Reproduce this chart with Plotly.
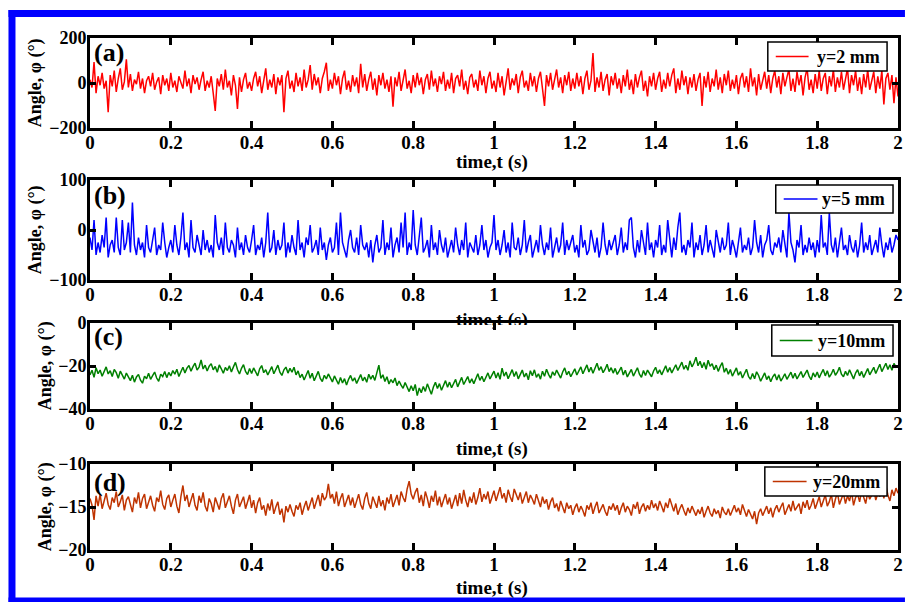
import plotly.graph_objects as go

FONT = "Liberation Serif"

# ---------------- data ----------------
DT = 0.005
N_SAMPLES = 401
time_s = [round(i * DT, 3) for i in range(N_SAMPLES)]

angle_y2mm = [
    15, -20, 93, -45, 30, -10, 45, -25, 10, -130, 35, -15, 55, -40, 20, 65, -30, 5, 105, -20,
    40, -35, 15, -5, 50, -25, 20, -45, 10, 30, -15, 45, -30, 5, 25, -50, 35, -10, 20, -35,
    45, -20, 10, -40, 30, 0, -25, 55, -15, 20, -45, 35, -5, 25, -30, 15, 50, -35, 10, -20,
    30, -45, -124, 20, -15, 40, -30, 60, -20, 10, -55, 35, -10, -115, 25, -40, 15, 45, -25, 5,
    -35, 20, 50, -15, 30, -45, 10, 65, -30, 15, -20, 40, -50, 25, -10, 35, -130, 20, 55, -25,
    10, -40, 45, -15, 25, -35, 60, -20, 15, 80, -30, 40, -10, 25, -45, 20, 50, 90, -35, 15,
    -25, 45, -10, 30, -50, 20, 55, -30, 10, -40, 35, -15, 25, -45, 85, -20, 40, -35, 15, 50,
    -30, 20, -55, 35, -10, 45, -25, 15, -40, 30, -105, 25, -15, 50, -35, 20, 60, -25, 10, -45,
    35, -20, 45, -10, 25, -50, 15, 40, -30, 55, -15, 20, -40, 30, -5, 50, -35, 15, -25, 45,
    -45, 20, 35, -15, 60, -30, 10, -50, 25, 40, -20, 15, -35, 55, -10, 30, -45, 20, 50, -25,
    10, -40, 45, -20, 30, -55, 15, 65, -30, 20, -10, 40, -45, 25, 55, -20, 10, -35, 45, -15,
    30, -40, 20, 50, -25, -102, 35, -15, 45, -30, 15, 60, -20, 25, -45, 35, -10, 50, -35, 20,
    -25, 45, -15, 30, -50, 20, 55, -30, 10, 133, -40, 25, -20, 50, -35, 15, 40, -55, 30, -10,
    45, -25, 20, -45, 35, -15, 60, -30, 15, -50, 40, -20, 25, 55, -35, 10, -60, 30, -15, 45,
    -30, 20, 50, -40, 15, -25, 45, -15, 35, 65, -45, 20, -30, 55, -10, 30, -50, 25, -20, 40,
    -35, 15, 45, -102, 30, -20, 50, -40, 20, -15, 60, -30, 25, -45, 40, -10, 55, -35, 15, -25,
    35, -50, 20, 45, -20, 30, -40, 65, -15, 25, -55, 40, -30, 15, 50, -25, 35, -45, 20, 55,
    -20, 30, -50, 45, -15, 25, 60, -35, 20, -40, 50, -10, 35, -55, 25, 65, -30, 15, -45, 40,
    -25, 55, -35, 20, 45, -50, 30, -15, 60, -40, 25, -20, 50, -30, 15, 65, -45, 35, -10, 55,
    -35, 25, -50, 40, -20, 60, -30, 15, 50, -45, 30, -25, 55, -95, 20, 45, -30, 35, -90, 25,
    -60,
]

angle_y5mm = [
    -15, -40, 20, -50, -25, -45, -10, -35, 25, -55, -30, -20, -45, 25, -35, -50, 20, -40, -25, 15,
    -45, 55, -30, -50, -15, -40, -25, -55, 10, -35, -45, -20, 5, -50, -30, -40, 15, -25, -55, -35,
    -20, -45, 10, -30, -50, -15, 35, -40, -25, -55, 20, -35, -45, -10, -30, -50, 0, -40, -20, -45,
    -30, -55, 30, -25, -40, -15, -50, 15, -35, -45, -20, -30, -55, 5, -40, -25, -50, -10, -35, -45,
    -20, 10, -50, -30, -40, -15, -55, -25, 35, -45, -35, 0, -50, -20, -40, -30, 15, -55, -25, -45,
    -10, -35, -50, 20, -40, -25, -55, -15, -30, 10, -45, -35, -20, -50, 5, -40, -25, -60, -30, -15,
    -45, -35, 15, -50, 35, -25, -40, -55, -20, 0, -35, -45, -15, -50, 10, -30, -40, -25, -55, -20,
    -65, -30, -10, -45, -35, 20, -50, -25, -40, 5, -55, -30, -15, -45, 15, -35, 35, -50, -25, -40,
    40, -30, -50, -15, 25, -45, -35, -20, -55, 10, -40, -25, -50, 0, -30, -45, -15, -55, -35, -20,
    -45, 5, -30, -50, -20, -40, 15, -55, -25, -35, -45, -10, -50, -30, 10, -40, -20, -55, -35, -25,
    30, -40, -20, -50, -30, 0, -45, -25, -55, 15, -35, -40, -15, -50, -30, 20, -45, -25, -10, -55,
    -35, -20, -45, 10, -30, -50, -25, -40, 5, -55, -35, -15, -45, -30, 15, -50, -20, -40, -25, -10,
    -45, -30, -55, 10, -35, -20, -50, -40, 0, -25, -45, -15, -55, -35, 15, -30, -50, -20, -40, -25,
    -10, -50, -30, 5, -45, -25, -40, 20, 25, -35, -55, -20, -45, 0, -30, -50, 15, -40, -25, -55,
    -20, -35, 10, -50, -30, -45, 20, -25, -55, -15, -40, 5, 35, -45, -30, -50, -20, -35, 15, -55,
    -25, -40, -10, -50, -30, 10, -45, -20, -35, -55, 0, -25, -45, -15, -40, -30, 15, -50, -20, -35,
    -55, -25, 5, -45, -30, -40, -15, -50, -35, 20, -25, -45, -10, -55, -30, -20, 10, -40, -50, -25,
    -35, -15, -45, 0, -30, -55, 35, -25, -40, -65, -20, -35, 10, -50, -30, -45, -15, -40, -25, -55,
    -20, -45, 30, -35, -25, -50, 35, -30, -45, -15, -55, -25, 5, -40, -30, -50, -10, -35, -45, -20,
    -55, -30, 15, -45, -25, -40, -10, -50, -35, -20, -45, 5, -30, -55, -25, -40, -15, -45, -30, -10,
    -20,
]

angle_y10mm = [
    -24.1, -22.0, -25.3, -20.8, -23.6, -21.9, -24.8, -22.5, -20.4, -23.7, -22.2, -24.9, -21.6, -23.1, -25.7, -22.4, -24.0, -26.1, -23.3, -25.2,
    -26.8, -24.3, -27.5, -25.1, -23.9, -26.6, -28.0, -24.7, -25.9, -23.4, -26.2, -24.5, -22.8, -25.6, -27.1, -23.8, -24.9, -22.6, -25.4, -23.0,
    -24.6, -22.1, -23.8, -21.5, -24.9, -22.7, -20.6, -23.2, -21.0, -19.8, -22.4, -20.3, -18.7, -21.9, -20.5, -17.2, -21.4, -19.6, -22.3, -20.1,
    -18.9, -21.8, -20.2, -22.9, -19.5, -21.3, -23.4, -20.7, -22.1, -19.9, -22.8, -20.4, -18.3, -21.6, -23.7, -21.1, -19.4, -22.5, -24.0, -21.2,
    -23.5, -20.9, -22.7, -24.6, -21.3, -19.8, -23.1, -21.7, -24.2, -22.0, -20.3, -23.6, -21.4, -19.6, -22.9, -24.4, -21.8, -20.5, -23.3, -21.1,
    -22.9, -20.6, -24.1, -22.3, -25.4, -23.8, -26.5, -24.2, -22.1, -25.7, -23.4, -26.9, -24.6, -22.5, -25.8, -27.2, -24.3, -26.0, -23.7, -25.9,
    -27.4, -24.6, -26.8, -28.5, -25.3, -27.9, -25.9, -28.8, -26.2, -24.4, -27.0, -25.5, -28.1, -26.4, -24.0, -26.9, -25.2, -27.6, -23.8, -26.1,
    -24.3, -26.7, -23.5, -19.6, -25.8, -24.1, -27.2, -25.0, -28.4, -26.3, -27.8, -25.6, -29.1, -27.0, -28.9, -30.4, -27.7, -29.8, -31.9, -29.2,
    -31.5, -28.6, -33.8, -30.2, -32.4, -29.5, -31.8, -28.3, -30.9, -33.1, -29.8, -27.6, -30.5, -28.2, -31.3, -29.0, -26.8, -29.9, -27.5, -30.1,
    -28.4, -26.2, -29.7, -27.1, -25.3, -28.6, -26.8, -24.9, -27.9, -26.0, -28.2, -25.4, -23.6, -26.7, -24.8, -27.3, -25.1, -23.2, -26.0, -24.3,
    -22.4, -25.6, -23.1, -26.2, -21.0, -24.7, -22.8, -25.9, -23.5, -21.7, -24.9, -22.6, -26.0, -23.8, -21.9, -25.1, -23.3, -26.4, -22.2, -24.5,
    -21.8, -25.3, -23.6, -26.1, -22.4, -24.8, -21.5, -23.9, -25.7, -22.7, -24.4, -21.9, -23.5, -25.6, -22.8, -20.9, -24.1, -22.5, -25.0, -23.2,
    -21.3, -24.2, -22.0, -20.4, -23.6, -21.7, -19.5, -22.8, -20.6, -23.4, -21.2, -18.7, -22.0, -20.3, -23.1, -21.5, -19.2, -22.6, -20.8, -23.3,
    -21.1, -23.9, -22.3, -20.5, -24.2, -22.0, -25.1, -23.4, -21.6, -24.7, -22.5, -20.8, -23.8, -25.3, -22.1, -24.4, -21.9, -23.6, -25.0, -22.3,
    -20.6, -23.5, -21.8, -24.1, -22.0, -19.9, -22.9, -20.7, -23.2, -21.1, -19.4, -22.1, -20.3, -18.2, -21.5, -19.7, -22.0, -17.6, -20.4, -18.6,
    -15.9, -19.9, -17.8, -20.8, -18.4, -21.5, -17.3, -20.1, -18.9, -21.7, -19.6, -22.5, -20.2, -18.4, -22.9, -21.0, -23.8, -21.6, -24.7, -22.4,
    -20.9, -24.3, -22.6, -25.6, -23.1, -21.5, -24.8, -26.2, -23.5, -25.9, -22.7, -24.4, -27.1, -24.9, -23.2, -26.3, -24.6, -27.3, -25.0, -23.7,
    -26.5, -24.1, -27.0, -25.4, -23.6, -26.2, -24.8, -22.9, -25.7, -23.4, -26.0, -24.5, -22.6, -25.3, -23.8, -21.9, -24.7, -26.4, -23.2, -25.1,
    -22.8, -25.5, -23.4, -21.6, -24.6, -22.2, -25.2, -23.7, -21.5, -24.3, -22.9, -20.6, -23.8, -25.0, -22.5, -24.4, -21.8, -23.9, -26.0, -23.3,
    -21.7, -24.6, -22.5, -25.3, -23.0, -21.2, -24.1, -22.4, -20.6, -23.5, -21.3, -19.2, -22.6, -20.8, -18.7, -21.6, -19.4, -22.0, -18.8, -20.5,
    -19.8,
]

angle_y20mm = [
    -14.0, -14.8, -16.5, -13.7, -14.9, -13.5, -15.2, -14.1, -13.4, -14.7, -15.3, -13.9, -14.5, -13.2, -15.0, -14.4, -13.6, -15.4, -14.2, -13.8,
    -14.9, -15.6, -13.9, -14.6, -13.3, -15.1, -14.0, -13.5, -15.2, -14.3, -13.7, -14.8, -15.5, -13.9, -14.4, -13.1, -14.7, -15.3, -14.0, -13.6,
    -15.0, -14.2, -13.5, -14.9, -15.7, -13.8, -12.5, -14.3, -13.6, -15.0, -14.1, -13.4, -14.8, -15.4, -13.7, -14.5, -13.3, -14.9, -15.5, -14.0,
    -14.6, -15.6, -13.9, -14.7, -15.3, -14.0, -13.4, -15.1, -14.5, -13.7, -14.9, -15.8, -14.2, -13.5, -15.0, -14.3, -13.8, -15.2, -14.4, -13.6,
    -15.1, -14.2, -15.7, -14.5, -13.9, -15.3, -14.8, -16.0, -14.6, -15.4, -14.1, -15.8, -15.0, -14.4, -15.9, -15.2, -16.8, -14.9, -15.6, -14.7,
    -15.5, -16.1, -14.8, -15.3, -14.5, -15.9, -15.0, -14.3, -15.4, -14.6, -13.9, -15.2, -14.4, -13.6, -14.9, -13.4, -14.2, -13.8, -12.3, -14.0,
    -13.5, -14.6, -13.2, -14.9, -14.0, -13.4, -15.0, -14.3, -13.6, -14.8, -13.9, -15.1, -14.2, -13.5, -14.7, -15.3, -14.0, -13.3, -14.6, -15.2,
    -13.8, -14.5, -15.1, -13.7, -14.9, -14.2, -15.4, -13.9, -14.6, -13.5, -15.0, -14.3, -13.6, -14.8, -13.2, -13.9, -14.4, -12.9, -12.0, -13.5,
    -14.1, -13.3, -12.8, -14.5, -13.6, -14.9, -13.2, -14.0, -15.1, -13.7, -14.4, -13.1, -14.8, -13.8, -15.0, -14.2, -13.5, -14.7, -13.9, -15.2,
    -14.3, -13.6, -14.9, -13.4, -14.6, -13.0, -14.2, -15.0, -13.8, -14.5, -13.3, -14.7, -13.9, -12.8, -14.4, -13.5, -14.1, -13.2, -14.6, -13.7,
    -13.1, -14.3, -13.6, -12.7, -14.0, -13.4, -14.5, -13.0, -13.8, -14.4, -12.9, -13.7, -14.2, -13.3, -14.6, -13.9, -13.2, -14.5, -13.6, -14.1,
    -14.7, -13.5, -14.2, -15.0, -13.8, -14.6, -14.1, -15.3, -14.4, -13.9, -15.1, -14.6, -15.5, -14.3, -15.0, -15.7, -14.5, -15.2, -14.8, -15.9,
    -15.1, -14.6, -15.6, -14.9, -15.4, -16.1, -14.8, -15.3, -14.5, -15.8, -15.0, -14.4, -15.7, -15.2, -14.7, -15.5, -16.0, -14.9, -15.3, -14.6,
    -15.4, -14.8, -15.9, -15.1, -14.5, -15.6, -14.9, -15.3, -16.0, -14.7, -15.2, -14.4, -15.8, -15.0, -14.6, -15.5, -14.8, -15.3, -14.2, -15.1,
    -14.6, -15.4, -14.3, -14.9, -15.6, -14.5, -15.1, -14.0, -14.8, -15.5, -14.6, -15.9, -15.2, -14.7, -15.4, -16.0, -15.1, -15.7, -14.9, -15.5,
    -16.0, -15.3, -15.8, -15.0, -16.2, -15.5, -14.9, -15.7, -16.1, -15.2, -15.8, -15.4, -16.3, -15.0, -15.6, -15.9, -15.2, -16.0, -15.5, -14.8,
    -15.6, -15.1, -15.9, -14.7, -15.4, -16.1, -15.3, -15.8, -16.4, -15.5, -17.0, -15.7, -15.2, -16.0, -15.4, -14.9, -15.8, -15.1, -16.2, -15.3,
    -14.8, -15.6, -15.0, -14.5, -15.9, -15.2, -14.7, -15.5, -14.3, -15.4, -15.0, -14.6, -15.8, -14.4, -15.1, -14.2, -15.3, -14.8, -14.0, -15.2,
    -14.5, -13.8, -15.0, -14.2, -13.6, -14.9, -14.4, -13.5, -15.1, -14.1, -13.3, -14.7, -14.0, -13.4, -14.6, -13.7, -14.3, -13.2, -14.8, -13.9,
    -13.5, -14.4, -13.1, -13.9, -14.6, -13.3, -14.1, -13.6, -12.9, -14.2, -13.4, -13.8, -12.7, -14.0, -12.5, -13.6, -14.3, -13.0, -13.7, -12.8,
    -13.4,
]

series_names = ["y=2 mm", "y=5 mm", "y=10mm", "y=20mm"]
series_values = [angle_y2mm, angle_y5mm, angle_y10mm, angle_y20mm]
series_colors = ["#ff0000", "#0000ff", "#008000", "#bf3300"]
panel_labels = ["(a)", "(b)", "(c)", "(d)"]
y_ranges = [[-200, 200], [-100, 100], [-40, 0], [-20, -10]]
y_tickvals = [[-200, 0, 200], [-100, 0, 100], [-40, -20, 0], [-20, -15, -10]]
x_tickvals = [0, 0.2, 0.4, 0.6, 0.8, 1.0, 1.2, 1.4, 1.6, 1.8, 2.0]
x_ticktext = ["0", "0.2", "0.4", "0.6", "0.8", "1", "1.2", "1.4", "1.6", "1.8", "2"]
x_title = "time,t (s)"
y_title = "Angle, φ (°)"

# ---------------- layout geometry (pixels) ----------------
W, H = 910, 602
ML, MR, MT, MB = 90, 7, 38, 52
PW, PH = W - ML - MR, H - MT - MB
panel_px = [(38, 128), (180, 280), (323, 409), (464, 550)]   # (top, bottom)
# legend boxes: (left, top, right, bottom, line_x0, line_x1, text_x)
legend_px = [
    (772, 42, 892, 71, 780, 813, 819),
    (780, 185, 898, 213, 788, 822, 825),
    (776, 325, 898, 356, 784, 817, 820),
    (769, 467, 892, 496, 777, 811, 815),
]
label_cy = [52, 195, 336, 482]
ytitle_x = [35, 35, 45, 45]
xtitle_cy = [162, 320, 449, 588]


def xp(px):
    return (px - ML) / PW


def yp(py):
    return (H - MB - py) / PH


fig = go.Figure()
bold = dict(family=FONT, color="black", weight="bold")

annotations = []
shapes = []
for i in range(4):
    sfx = "" if i == 0 else str(i + 1)
    top, bot = panel_px[i]
    fig.add_trace(go.Scatter(
        x=time_s, y=series_values[i], mode="lines", name=series_names[i],
        line=dict(color=series_colors[i], width=1.5),
        xaxis="x" + sfx, yaxis="y" + sfx, showlegend=False,
    ))
    fig.update_layout(**{
        "xaxis" + sfx: dict(
            domain=[0, 1], range=[0, 2], anchor="y" + sfx,
            tickvals=x_tickvals, ticktext=x_ticktext,
            ticks="inside", ticklen=7, tickwidth=2.5, tickcolor="black",
            showline=True, linewidth=3, linecolor="black", mirror="ticks",
            showgrid=False, zeroline=False,
            tickfont=dict(size=19, **bold), ticklabelstandoff=-5,
        ),
        "yaxis" + sfx: dict(
            domain=[yp(bot), yp(top)], range=y_ranges[i], anchor="x" + sfx,
            tickvals=y_tickvals[i],
            ticks="inside", ticklen=6, tickwidth=2.5, tickcolor="black",
            showline=True, linewidth=3, linecolor="black", mirror="ticks",
            showgrid=False, zeroline=False,
            tickfont=dict(size=18, **bold), ticklabelstandoff=-3,
        ),
    })
    # legend box drawn per panel
    lx0, ly0, lx1, ly1, sx0, sx1, tx = legend_px[i]
    cy = (ly0 + ly1) / 2
    shapes.append(dict(
        type="rect", xref="paper", yref="paper",
        x0=xp(lx0), x1=xp(lx1), y0=yp(ly1), y1=yp(ly0),
        fillcolor="white", line=dict(color="black", width=1.5), layer="above",
    ))
    shapes.append(dict(
        type="line", xref="paper", yref="paper",
        x0=xp(sx0), x1=xp(sx1), y0=yp(cy), y1=yp(cy),
        line=dict(color=series_colors[i], width=1.5), layer="above",
    ))
    annotations.append(dict(
        text=series_names[i], xref="paper", yref="paper",
        x=xp(tx), y=yp(cy), xanchor="left", yanchor="middle",
        showarrow=False, font=dict(size=18, **bold),
    ))
    annotations.append(dict(
        text=panel_labels[i], xref="paper", yref="paper",
        x=xp(92), y=yp(label_cy[i]), xanchor="left", yanchor="middle",
        showarrow=False, font=dict(size=26, **bold),
    ))
    annotations.append(dict(
        text=y_title, xref="paper", yref="paper", textangle=-90,
        x=xp(ytitle_x[i]), y=yp((top + bot) / 2), xanchor="center", yanchor="middle",
        showarrow=False, font=dict(size=18, **bold),
    ))
    annotations.append(dict(
        text=x_title, xref="paper", yref="paper",
        x=xp(494), y=yp(xtitle_cy[i]), xanchor="center", yanchor="middle",
        showarrow=False, font=dict(size=19, **bold),
    ))

# white covers: the (b) time label is partly hidden behind panel (c)
for cx0, cx1 in [(445, 494.5), (498.5, 545)]:
    annotations.append(dict(
        text=" ", xref="paper", yref="paper",
        x=xp((cx0 + cx1) / 2), y=yp(324.8), xanchor="center", yanchor="top",
        width=cx1 - cx0, height=12, bgcolor="white", borderpad=0, borderwidth=0,
        showarrow=False, font=dict(size=8),
    ))

# blue frame: top, left and bottom sides (no right side in the picture)
frame_left, frame_top, frame_bottom, frame_right = 11.5, 13.5, 601, 910
for fx0, fy0, fx1, fy1 in [
    (8, frame_top, frame_right, frame_top),
    (frame_left, 10, frame_left, 605),
    (8, frame_bottom, frame_right, frame_bottom),
]:
    shapes.append(dict(
        type="line", xref="paper", yref="paper",
        x0=xp(fx0), x1=xp(fx1), y0=yp(fy0), y1=yp(fy1),
        line=dict(color="#0000ff", width=7), layer="above",
    ))

fig.update_layout(
    width=W, height=H,
    margin=dict(l=ML, r=MR, t=MT, b=MB),
    paper_bgcolor="white", plot_bgcolor="white",
    showlegend=False,
    annotations=annotations,
    shapes=shapes,
)

fig.write_html(
    "out.html",
    config={"displayModeBar": False},
    post_script="document.body.style.margin='0px';document.body.style.overflow='hidden';",
)
